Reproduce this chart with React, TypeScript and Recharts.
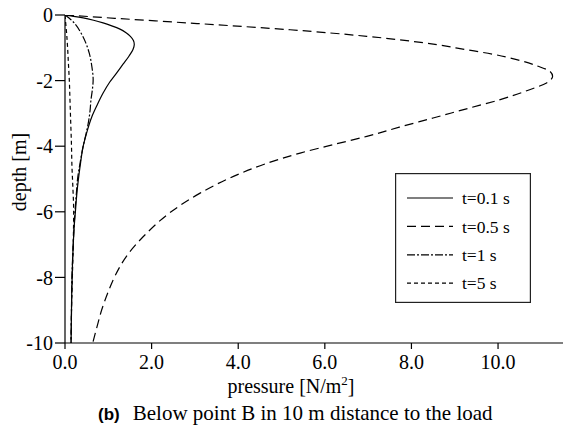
import React from 'react';
import { LineChart, Line, XAxis, YAxis, Legend, Label } from 'recharts';

const seriesNames = ['t=0.1 s', 't=0.5 s', 't=1 s', 't=5 s'];

// t = 0.1 s (solid)
const depth01 = [0, -0.04, -0.09, -0.16, -0.24, -0.33, -0.43, -0.54, -0.65, -0.78, -0.9, -1.05, -1.25, -1.5, -1.77, -2.05, -2.38, -2.75, -3.1, -3.5, -4.0, -4.5, -5.0, -5.5, -6.0, -6.5, -7.0, -7.5, -8.0, -8.5, -9.0, -9.5, -10];
const pressure01 = [0, 0.2, 0.42, 0.66, 0.88, 1.08, 1.27, 1.41, 1.51, 1.58, 1.6, 1.57, 1.48, 1.34, 1.19, 1.03, 0.88, 0.74, 0.62, 0.52, 0.42, 0.36, 0.31, 0.27, 0.24, 0.21, 0.19, 0.175, 0.165, 0.155, 0.15, 0.145, 0.14];

// t = 0.5 s (long dash)
const depth05 = [0, -0.1, -0.26, -0.45, -0.65, -0.85, -1.06, -1.2, -1.36, -1.55, -1.72, -1.87, -2.07, -2.3, -2.58, -2.85, -3.14, -3.42, -3.7, -3.95, -4.21, -4.55, -4.92, -5.43, -6.0, -6.7, -7.3, -7.97, -8.5, -8.98, -9.5, -10];
const pressure05 = [0, 1.15, 3.05, 5.2, 6.97, 8.3, 9.28, 9.9, 10.43, 10.9, 11.2, 11.26, 11.12, 10.68, 10.05, 9.3, 8.5, 7.72, 6.97, 6.2, 5.43, 4.6, 3.89, 3.12, 2.45, 1.85, 1.45, 1.15, 0.98, 0.85, 0.74, 0.64];

// t = 1 s (dash-dot)
const depth1 = [0, -0.1, -0.3, -0.55, -0.85, -1.16, -1.57, -1.97, -2.3, -2.58, -2.9, -3.2, -3.6, -4.0, -4.5, -5.0, -5.5, -6.0, -7.0, -8.0, -9.0, -10];
const pressure1 = [0, 0.1, 0.25, 0.37, 0.48, 0.56, 0.62, 0.65, 0.63, 0.6, 0.58, 0.55, 0.49, 0.42, 0.35, 0.29, 0.26, 0.23, 0.19, 0.16, 0.15, 0.14];

// t = 5 s (short dash)
const depth5 = [0, -0.3, -0.6, -1.0, -1.5, -2.0, -2.6, -3.2, -4.0, -4.6, -5.2, -6.0, -7.0, -8.0, -9.0, -10];
const pressure5 = [0, 0.02, 0.04, 0.06, 0.08, 0.1, 0.115, 0.13, 0.15, 0.16, 0.18, 0.2, 0.19, 0.17, 0.15, 0.14];

const xTicks = [0, 2, 4, 6, 8, 10];
const yTicks = [0, -2, -4, -6, -8, -10];

const toPoints = (d: number[], p: number[]) => d.map((v, i) => ({ d: v, p: p[i] }));

const SERIF = '"Liberation Serif", "Times New Roman", serif';
const SANS = '"Liberation Sans", Arial, sans-serif';

const series = [
  { name: seriesNames[0], data: toPoints(depth01, pressure01), dash: undefined as string | undefined },
  { name: seriesNames[1], data: toPoints(depth05, pressure05), dash: '9 5' },
  { name: seriesNames[2], data: toPoints(depth1, pressure1), dash: '8 2 2 2' },
  { name: seriesNames[3], data: toPoints(depth5, pressure5), dash: '4 3' },
];

const renderLegend = () => (
  <svg width={136} height={130} style={{ display: 'block' }}>
    <rect x={0.6} y={0.6} width={134.8} height={128.8} fill="#fff" stroke="#222" strokeWidth={1.2} />
    {series.map((s, i) => {
      const y = 25 + i * 28.4;
      return (
        <g key={s.name}>
          <line x1={12} x2={58} y1={y} y2={y} stroke="#000" strokeWidth={1.2} strokeDasharray={s.dash} />
          <text x={67} y={y} dy="0.35em" fontSize={17.5} fontFamily={SERIF} fill="#000">{s.name}</text>
        </g>
      );
    })}
  </svg>
);

const XTitle = () => (
  <g>
    <text x={291} y={393} textAnchor="middle" fontSize={20} fontFamily={SERIF} fill="#000">
      pressure [N/m<tspan dy={-8} fontSize={13}>2</tspan><tspan dy={8}>]</tspan>
    </text>
    <text x={98} y={420} fill="#000">
      <tspan fontFamily={SANS} fontWeight="bold" fontSize={17}>(b)</tspan>
      <tspan fontFamily={SERIF} fontSize={21} dx={13}>Below point B in 10 m distance to the load</tspan>
    </text>
  </g>
);

const YTitle = () => (
  <text x={19} y={172} transform="rotate(-90 19 172)" textAnchor="middle" dominantBaseline="central" fontSize={20} fontFamily={SERIF} fill="#000">
    depth [m]
  </text>
);

export default function App() {
  return (
    <div style={{ position: 'absolute', left: 0, top: 0, width: 574, height: 426, background: '#fff' }}>
      <LineChart width={574} height={426} layout="vertical" margin={{ top: 15, right: 11, bottom: 0, left: 0 }}>
        <XAxis
          type="number"
          domain={[0, 11.5]}
          ticks={xTicks}
          interval={0}
          allowDataOverflow
          tickFormatter={(v: number) => v.toFixed(1)}
          tickSize={6}
          tickMargin={6}
          height={83}
          axisLine={{ stroke: '#000', strokeWidth: 1.2 }}
          tickLine={{ stroke: '#000', strokeWidth: 1.2 }}
          tick={{ fill: '#000', fontSize: 20, fontFamily: SERIF }}
        >
          <Label content={XTitle} />
        </XAxis>
        <YAxis
          type="number"
          dataKey="d"
          domain={[-10, 0]}
          ticks={yTicks}
          interval={0}
          reversed
          allowDataOverflow
          width={65}
          tickSize={10}
          tickMargin={2}
          axisLine={{ stroke: '#000', strokeWidth: 1.2 }}
          tickLine={{ stroke: '#000', strokeWidth: 1.2 }}
          tick={{ fill: '#000', fontSize: 20, fontFamily: SERIF }}
        >
          <Label content={YTitle} />
        </YAxis>
        <Legend
          layout="horizontal"
          verticalAlign="middle"
          align="center"
          content={renderLegend}
          wrapperStyle={{ left: 395, top: 173, width: 136, height: 130 }}
        />
        {series.map((s) => (
          <Line
            key={s.name}
            name={s.name}
            data={s.data}
            dataKey="p"
            type="monotone"
            stroke="#000"
            strokeWidth={1.2}
            strokeDasharray={s.dash}
            dot={false}
            activeDot={false}
            isAnimationActive={false}
          />
        ))}
      </LineChart>
    </div>
  );
}
